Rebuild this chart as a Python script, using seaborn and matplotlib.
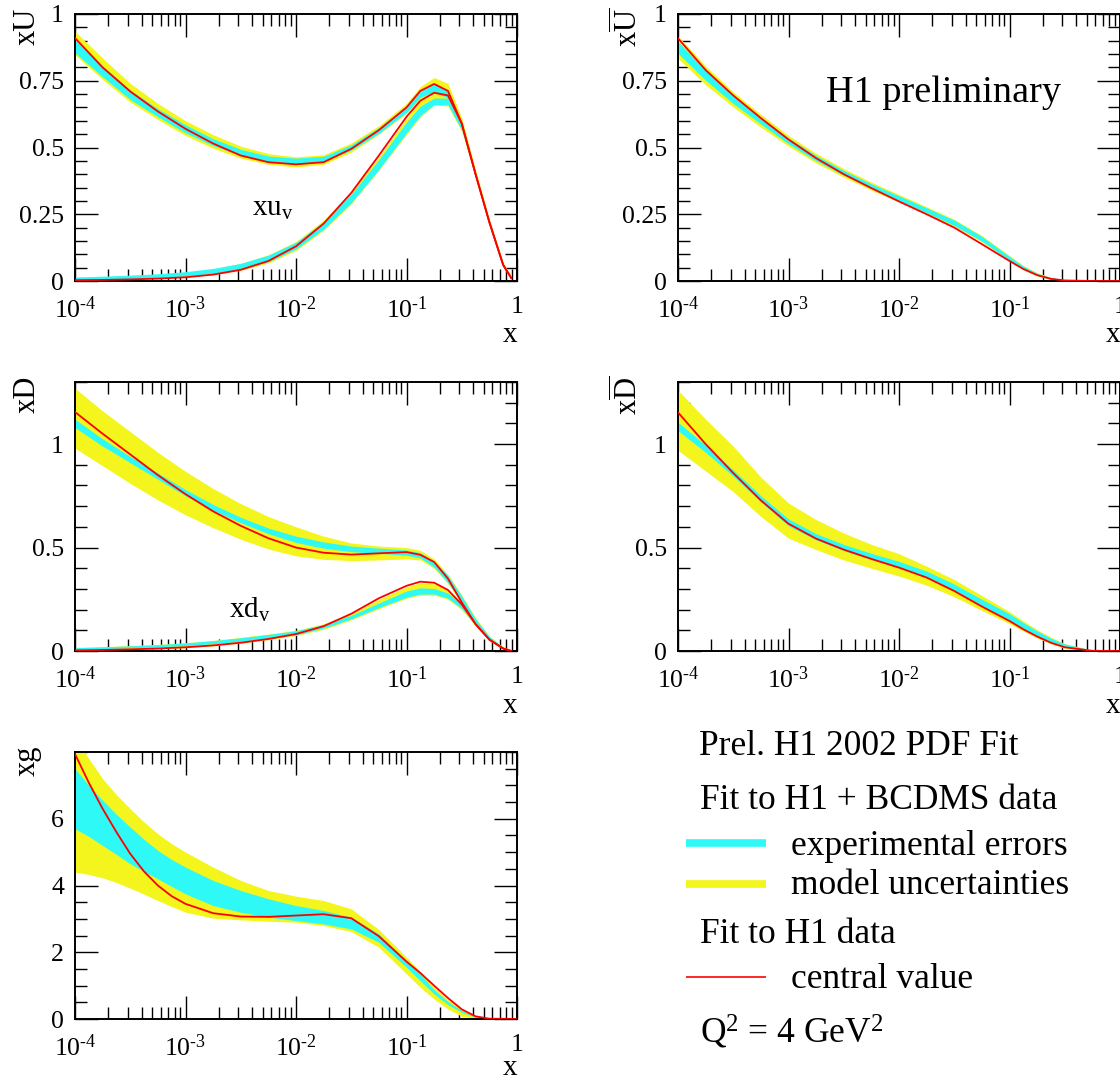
import numpy as np
import pandas as pd
import matplotlib
matplotlib.use("Agg")
import matplotlib.pyplot as plt
from matplotlib.lines import Line2D
from matplotlib.ticker import FixedLocator, LogLocator, MultipleLocator, NullFormatter, FixedFormatter
import seaborn as sns

# ---------------- data ----------------
# log10(x) grids
LOGX_A = [-4.0, -3.75, -3.5, -3.25, -3.0, -2.75, -2.5, -2.25, -2.0, -1.75, -1.5, -1.25,
          -1.0, -0.875, -0.75, -0.625, -0.5, -0.375, -0.25, -0.125, -0.05]
LOGX_B = [-4.0, -3.75, -3.5, -3.25, -3.0, -2.75, -2.5, -2.25, -2.0, -1.75, -1.5, -1.25,
          -1.0, -0.875, -0.75, -0.625, -0.5, -0.25, 0.0]
LOGX_G = [-4.0, -3.875, -3.75, -3.625, -3.5, -3.375, -3.25, -3.125, -3.0, -2.75, -2.5, -2.25,
          -2.0, -1.75, -1.5, -1.25, -1.0, -0.875, -0.75, -0.625, -0.5, -0.375, -0.25, 0.0]

# xU (total up) and xu_v
U_YEL_LO = [0.847, 0.755, 0.67, 0.605, 0.545, 0.497, 0.46, 0.437, 0.427, 0.437, 0.483, 0.55, 0.628, 0.68, 0.70, 0.675, 0.565, 0.385, 0.21, 0.052, 0.005]
U_YEL_HI = [0.935, 0.835, 0.74, 0.665, 0.60, 0.548, 0.505, 0.477, 0.465, 0.473, 0.517, 0.582, 0.665, 0.728, 0.762, 0.74, 0.61, 0.415, 0.232, 0.068, 0.015]
U_CYA_LO = [0.855, 0.765, 0.68, 0.615, 0.555, 0.507, 0.47, 0.448, 0.44, 0.447, 0.49, 0.553, 0.632, 0.688, 0.71, 0.685, 0.57, 0.39, 0.214, 0.055, 0.007]
U_CYA_HI = [0.905, 0.805, 0.715, 0.645, 0.585, 0.533, 0.493, 0.468, 0.46, 0.467, 0.51, 0.575, 0.655, 0.712, 0.74, 0.715, 0.59, 0.405, 0.226, 0.064, 0.012]
U_RED = [0.91, 0.80, 0.71, 0.635, 0.57, 0.515, 0.47, 0.445, 0.437, 0.445, 0.495, 0.565, 0.65, 0.712, 0.738, 0.712, 0.59, 0.40, 0.22, 0.06, 0.01]

UV_YEL_LO = [0.003, 0.005, 0.007, 0.01, 0.015, 0.024, 0.04, 0.068, 0.115, 0.19, 0.29, 0.415, 0.55, 0.615, 0.66, 0.655, 0.56, 0.385, 0.21, 0.052, 0.005]
UV_YEL_HI = [0.013, 0.016, 0.019, 0.024, 0.032, 0.045, 0.066, 0.098, 0.148, 0.228, 0.335, 0.465, 0.61, 0.675, 0.70, 0.695, 0.60, 0.415, 0.232, 0.068, 0.015]
UV_CYA_LO = [0.005, 0.007, 0.009, 0.013, 0.019, 0.028, 0.044, 0.072, 0.12, 0.194, 0.293, 0.418, 0.555, 0.62, 0.66, 0.66, 0.565, 0.39, 0.214, 0.055, 0.007]
UV_CYA_HI = [0.015, 0.018, 0.022, 0.027, 0.035, 0.047, 0.066, 0.097, 0.145, 0.222, 0.325, 0.455, 0.595, 0.655, 0.685, 0.685, 0.585, 0.405, 0.226, 0.064, 0.012]
UV_RED = [0.003, 0.004, 0.006, 0.009, 0.014, 0.024, 0.042, 0.075, 0.13, 0.215, 0.33, 0.47, 0.615, 0.675, 0.705, 0.695, 0.59, 0.40, 0.22, 0.06, 0.01]

# xUbar
UB_YEL_LO = [0.834, 0.735, 0.652, 0.576, 0.505, 0.442, 0.389, 0.34, 0.296, 0.252, 0.205, 0.146, 0.075, 0.042, 0.019, 0.006, 0.001, 0.0, 0.0]
UB_YEL_HI = [0.918, 0.805, 0.708, 0.624, 0.545, 0.478, 0.421, 0.37, 0.324, 0.278, 0.231, 0.17, 0.095, 0.058, 0.031, 0.014, 0.005, 0.0, 0.0]
UB_CYA_LO = [0.853, 0.752, 0.665, 0.588, 0.514, 0.45, 0.396, 0.346, 0.301, 0.256, 0.208, 0.149, 0.078, 0.044, 0.021, 0.007, 0.001, 0.0, 0.0]
UB_CYA_HI = [0.897, 0.788, 0.695, 0.612, 0.536, 0.47, 0.414, 0.364, 0.319, 0.274, 0.228, 0.167, 0.092, 0.056, 0.029, 0.013, 0.005, 0.0, 0.0]
UB_RED = [0.909, 0.79, 0.695, 0.61, 0.53, 0.46, 0.40, 0.348, 0.298, 0.25, 0.2, 0.138, 0.075, 0.045, 0.022, 0.008, 0.002, 0.0, 0.0]

# xD (total down) and xd_v
D_YEL_LO = [0.98, 0.895, 0.81, 0.73, 0.658, 0.596, 0.54, 0.493, 0.46, 0.443, 0.437, 0.44, 0.445, 0.44, 0.40, 0.325, 0.23, 0.125, 0.05, 0.01, 0.0]
D_YEL_HI = [1.27, 1.16, 1.06, 0.96, 0.868, 0.785, 0.712, 0.65, 0.6, 0.555, 0.522, 0.507, 0.5, 0.487, 0.445, 0.37, 0.27, 0.16, 0.072, 0.02, 0.003]
D_CYA_LO = [1.08, 0.99, 0.91, 0.83, 0.75, 0.68, 0.62, 0.567, 0.525, 0.497, 0.48, 0.472, 0.463, 0.45, 0.405, 0.33, 0.235, 0.13, 0.055, 0.012, 0.0]
D_CYA_HI = [1.12, 1.025, 0.94, 0.86, 0.78, 0.708, 0.646, 0.594, 0.555, 0.527, 0.507, 0.497, 0.488, 0.475, 0.435, 0.365, 0.265, 0.155, 0.07, 0.018, 0.002]
D_RED = [1.155, 1.05, 0.95, 0.85, 0.758, 0.675, 0.605, 0.545, 0.5, 0.475, 0.466, 0.472, 0.478, 0.465, 0.43, 0.35, 0.235, 0.13, 0.055, 0.012, 0.0]

DV_YEL_LO = [0.001, 0.003, 0.006, 0.01, 0.016, 0.025, 0.038, 0.055, 0.075, 0.105, 0.15, 0.205, 0.255, 0.27, 0.27, 0.25, 0.2, 0.12, 0.05, 0.01, 0.0]
DV_YEL_HI = [0.017, 0.021, 0.026, 0.032, 0.04, 0.051, 0.066, 0.082, 0.1, 0.132, 0.18, 0.25, 0.31, 0.33, 0.325, 0.295, 0.23, 0.145, 0.065, 0.017, 0.003]
DV_CYA_LO = [0.008, 0.011, 0.015, 0.02, 0.026, 0.035, 0.047, 0.061, 0.078, 0.11, 0.155, 0.21, 0.26, 0.275, 0.275, 0.255, 0.205, 0.125, 0.052, 0.011, 0.0]
DV_CYA_HI = [0.016, 0.02, 0.025, 0.031, 0.039, 0.05, 0.064, 0.08, 0.098, 0.128, 0.172, 0.232, 0.29, 0.305, 0.302, 0.28, 0.225, 0.14, 0.062, 0.015, 0.002]
DV_RED = [0.003, 0.005, 0.008, 0.012, 0.018, 0.027, 0.04, 0.058, 0.082, 0.12, 0.18, 0.255, 0.315, 0.335, 0.33, 0.295, 0.225, 0.13, 0.055, 0.012, 0.0]

# xDbar
DB_YEL_LO = [0.97, 0.87, 0.77, 0.65, 0.545, 0.49, 0.44, 0.4, 0.362, 0.318, 0.262, 0.196, 0.132, 0.096, 0.063, 0.035, 0.014, 0.0, 0.0]
DB_YEL_HI = [1.26, 1.12, 0.99, 0.84, 0.715, 0.635, 0.57, 0.515, 0.47, 0.41, 0.345, 0.268, 0.19, 0.145, 0.103, 0.067, 0.036, 0.004, 0.0]
DB_CYA_LO = [1.065, 0.96, 0.845, 0.72, 0.605, 0.537, 0.485, 0.442, 0.403, 0.356, 0.293, 0.22, 0.148, 0.108, 0.073, 0.043, 0.02, 0.0, 0.0]
DB_CYA_HI = [1.105, 0.995, 0.875, 0.75, 0.638, 0.567, 0.515, 0.472, 0.433, 0.386, 0.323, 0.25, 0.18, 0.137, 0.097, 0.062, 0.034, 0.003, 0.0]
DB_RED = [1.153, 1.0, 0.86, 0.728, 0.615, 0.543, 0.49, 0.445, 0.403, 0.355, 0.29, 0.215, 0.145, 0.105, 0.07, 0.04, 0.018, 0.001, 0.0]

# xg
G_YEL_LO = [4.4, 4.33, 4.23, 4.09, 3.92, 3.74, 3.55, 3.37, 3.2, 3.02, 2.97, 2.93, 2.9, 2.8, 2.62, 2.15, 1.35, 0.95, 0.6, 0.3, 0.08, 0.01, 0.0, 0.0]
G_YEL_HI = [8.5, 7.8, 7.2, 6.72, 6.3, 5.9, 5.55, 5.25, 5.0, 4.55, 4.15, 3.85, 3.68, 3.55, 3.3, 2.68, 1.85, 1.42, 0.95, 0.58, 0.3, 0.08, 0.01, 0.0]
G_CYA_LO = [5.7, 5.47, 5.2, 4.93, 4.65, 4.42, 4.2, 3.97, 3.75, 3.4, 3.2, 3.05, 2.95, 2.85, 2.7, 2.3, 1.55, 1.15, 0.75, 0.43, 0.2, 0.05, 0.005, 0.0]
G_CYA_HI = [7.5, 7.0, 6.55, 6.13, 5.75, 5.38, 5.05, 4.78, 4.55, 4.15, 3.85, 3.6, 3.4, 3.25, 3.05, 2.55, 1.75, 1.35, 0.88, 0.52, 0.25, 0.07, 0.01, 0.0]
G_RED = [7.94, 7.08, 6.3, 5.6, 4.95, 4.42, 4.0, 3.68, 3.45, 3.17, 3.07, 3.06, 3.1, 3.14, 3.02, 2.48, 1.72, 1.38, 1.0, 0.63, 0.29, 0.08, 0.01, 0.0]

XTICKS = [1e-4, 1e-3, 1e-2, 1e-1, 1.0]
XTICK_LABELS = [r"$10^{\text{-4}}$", r"$10^{\text{-3}}$", r"$10^{\text{-2}}$", r"$10^{\text{-1}}$", "1"]
U_TICKS = [0, 0.25, 0.5, 0.75, 1]
U_TICK_LABELS = ["0", "0.25", "0.5", "0.75", "1"]
D_TICKS = [0, 0.5, 1]
D_TICK_LABELS = ["0", "0.5", "1"]
G_TICKS = [0, 2, 4, 6]
G_TICK_LABELS = ["0", "2", "4", "6"]

YEL = "#f3f51c"
CYA = "#2ef9f6"
RED = "#ff0000"

# ---------------- style ----------------
sns.set_theme(style="ticks")
plt.rcParams["font.family"] = ["Liberation Serif", "DejaVu Serif"]
plt.rcParams["mathtext.fontset"] = "custom"
plt.rcParams["mathtext.rm"] = "Liberation Serif"
plt.rcParams["mathtext.it"] = "Liberation Serif:italic"
plt.rcParams["mathtext.bf"] = "Liberation Serif:bold"
plt.rcParams["axes.linewidth"] = 1.4
plt.rcParams["axes.edgecolor"] = "black"
plt.rcParams["text.color"] = "black"
plt.rcParams["axes.labelcolor"] = "black"
plt.rcParams["xtick.color"] = "black"
plt.rcParams["ytick.color"] = "black"
plt.rcParams["xtick.labelcolor"] = "black"
plt.rcParams["ytick.labelcolor"] = "black"

W, H = 1120, 1082
fig = plt.figure(figsize=(W / 100, H / 100), dpi=100)


def rect(left, top, right, bottom):
    return [left / W, 1 - bottom / H, (right - left) / W, (bottom - top) / H]


def setup(ax, yticks, ylabels, ymax, yminor, ylabel, xlab_y=-0.155):
    ax.set_xscale("log")
    ax.set_xlim(1e-4, 1)
    ax.set_ylim(0, ymax)
    ax.xaxis.set_major_locator(FixedLocator(XTICKS))
    ax.xaxis.set_major_formatter(FixedFormatter(XTICK_LABELS))
    ax.xaxis.set_minor_locator(LogLocator(base=10, subs=np.arange(2, 10), numticks=20))
    ax.xaxis.set_minor_formatter(NullFormatter())
    ax.yaxis.set_major_locator(FixedLocator(yticks))
    ax.yaxis.set_major_formatter(FixedFormatter(ylabels))
    ax.yaxis.set_minor_locator(MultipleLocator(yminor))
    ax.tick_params(which="both", direction="in", top=True, right=True, colors="black",
                   labelsize=18.5)
    ax.tick_params(axis="y", which="major", pad=8)
    ax.tick_params(axis="x", which="major", pad=11)
    ax.tick_params(which="major", length=16.5, width=1.0)
    ax.tick_params(which="minor", length=8.5, width=1.0)
    ax.set_xlabel("x", fontsize=21)
    ax.xaxis.set_label_coords(0.985, xlab_y)
    ax.xaxis.label.set_verticalalignment("top")
    ax.set_ylabel(ylabel, fontsize=22, loc="top")
    ax.yaxis.set_label_coords(-0.076, 1.025)
    ax.grid(False)
    ax.set_facecolor("white")


def band(ax, logx, lo, hi, color):
    x = np.power(10.0, np.array(logx))
    ax.fill_between(x, lo, hi, color=color, lw=0, zorder=2)


def central(ax, logx, vals):
    df = pd.DataFrame({"x": np.power(10.0, np.array(logx)), "v": vals})
    sns.lineplot(data=df, x="x", y="v", ax=ax, color=RED, lw=1.3, zorder=4,
                 estimator=None, legend=False)


LEFT = (75, 517)
RIGHT = (678, 1120)
ROWS = [(14, 281), (382, 651), (752, 1019)]

# xU
ax = fig.add_axes(rect(LEFT[0], ROWS[0][0], LEFT[1], ROWS[0][1]))
band(ax, LOGX_A, U_YEL_LO, U_YEL_HI, YEL)
band(ax, LOGX_A, UV_YEL_LO, UV_YEL_HI, YEL)
band(ax, LOGX_A, U_CYA_LO, U_CYA_HI, CYA)
band(ax, LOGX_A, UV_CYA_LO, UV_CYA_HI, CYA)
central(ax, LOGX_A, U_RED)
central(ax, LOGX_A, UV_RED)
setup(ax, U_TICKS, U_TICK_LABELS, 1.0, 0.05, "xU")
ax.text(0.0040, 0.245, r"xu$_{\mathrm{v}}$", fontsize=21, ha="left", va="baseline", zorder=6)

# xUbar
ax = fig.add_axes(rect(RIGHT[0], ROWS[0][0], RIGHT[1], ROWS[0][1]))
band(ax, LOGX_B, UB_YEL_LO, UB_YEL_HI, YEL)
band(ax, LOGX_B, UB_CYA_LO, UB_CYA_HI, CYA)
central(ax, LOGX_B, UB_RED)
setup(ax, U_TICKS, U_TICK_LABELS, 1.0, 0.05, r"$\mathrm{x}\overline{\mathrm{U}}$")
ax.text(0.335, 0.67, "H1 preliminary", fontsize=27.5, ha="left", va="baseline",
        transform=ax.transAxes, zorder=6)

# xD
ax = fig.add_axes(rect(LEFT[0], ROWS[1][0], LEFT[1], ROWS[1][1]))
band(ax, LOGX_A, D_YEL_LO, D_YEL_HI, YEL)
band(ax, LOGX_A, DV_YEL_LO, DV_YEL_HI, YEL)
band(ax, LOGX_A, D_CYA_LO, D_CYA_HI, CYA)
band(ax, LOGX_A, DV_CYA_LO, DV_CYA_HI, CYA)
central(ax, LOGX_A, D_RED)
central(ax, LOGX_A, DV_RED)
setup(ax, D_TICKS, D_TICK_LABELS, 1.3, 0.1, "xD")
ax.text(0.00245, 0.16, r"xd$_{\mathrm{v}}$", fontsize=21, ha="left", va="baseline", zorder=6)

# xDbar
ax = fig.add_axes(rect(RIGHT[0], ROWS[1][0], RIGHT[1], ROWS[1][1]))
band(ax, LOGX_B, DB_YEL_LO, DB_YEL_HI, YEL)
band(ax, LOGX_B, DB_CYA_LO, DB_CYA_HI, CYA)
central(ax, LOGX_B, DB_RED)
setup(ax, D_TICKS, D_TICK_LABELS, 1.3, 0.1, r"$\mathrm{x}\overline{\mathrm{D}}$")

# xg
ax = fig.add_axes(rect(LEFT[0], ROWS[2][0], LEFT[1], ROWS[2][1]))
band(ax, LOGX_G, G_YEL_LO, G_YEL_HI, YEL)
band(ax, LOGX_G, G_CYA_LO, G_CYA_HI, CYA)
central(ax, LOGX_G, G_RED)
setup(ax, G_TICKS, G_TICK_LABELS, 8.0, 0.5, "xg", xlab_y=-0.135)

# ---------------- legend block ----------------
FS = 25.5


def ftext(x, y, s):
    fig.text(x / W, 1 - y / H, s, fontsize=FS, ha="left", va="baseline", color="black")


def fline(y, color, lw):
    fig.add_artist(Line2D([686 / W, 766 / W], [1 - y / H, 1 - y / H], color=color, lw=lw,
                          transform=fig.transFigure, solid_capstyle="butt"))


ftext(699, 755, "Prel. H1 2002 PDF Fit")
ftext(700, 809, "Fit to H1 + BCDMS data")
fline(843, CYA, 5.5)
ftext(791, 855, "experimental errors")
fline(884, YEL, 5.5)
ftext(791, 894, "model uncertainties")
ftext(700, 943, "Fit to H1 data")
fline(977, RED, 1.2)
ftext(791, 988, "central value")
ftext(700, 1043, r"Q$^{2}$ = 4 GeV$^{2}$")

fig.savefig("out.png", dpi=100, facecolor="white")
